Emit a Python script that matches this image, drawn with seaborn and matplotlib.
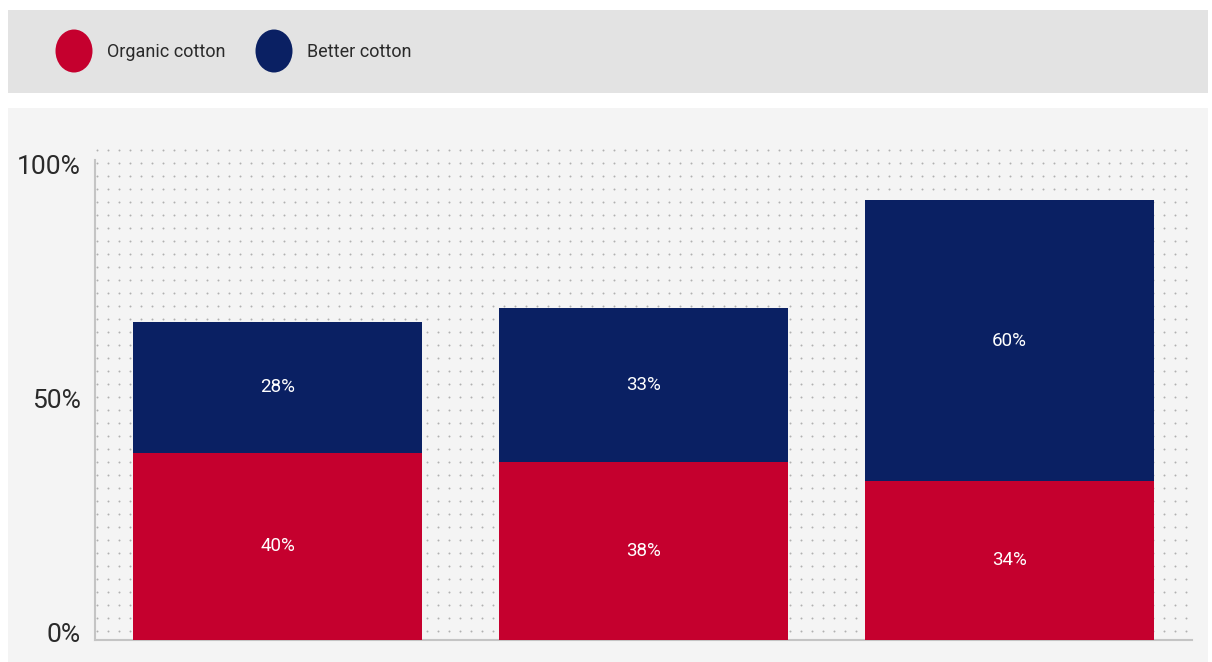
import numpy as np
import pandas as pd
import matplotlib
matplotlib.use("Agg")
import matplotlib.pyplot as plt
from matplotlib.patches import Rectangle, Ellipse
from matplotlib.transforms import offset_copy, blended_transform_factory
import seaborn as sns

# ---- data ----
categories = ["Group 1", "Group 2", "Group 3"]
organic = [40, 38, 34]
better = [28, 33, 60]
series_names = ["Organic cotton", "Better cotton"]
y_ticks = [0, 50, 100]
y_tick_labels = ["0%", "50%", "100%"]

RED = "#C5002E"
NAVY = "#0A2063"
TEXT = "#2a2a2a"

sns.set_theme(style="white")
plt.rcParams["font.family"] = ["Roboto", "DejaVu Sans"]

W, H = 1212, 662
fig = plt.figure(figsize=(W / 100, H / 100), dpi=100)
fig.patch.set_facecolor("white")

# background panels
fig.patches.append(Rectangle((8 / W, 1 - 93 / H), 1200 / W, 83 / H,
                             transform=fig.transFigure, facecolor="#e3e3e3",
                             edgecolor="none", zorder=-10))
fig.patches.append(Rectangle((8 / W, 0), 1200 / W, 1 - 108 / H,
                             transform=fig.transFigure, facecolor="#f4f4f4",
                             edgecolor="none", zorder=-10))

# legend
legend_items = [(74, 107, RED, series_names[0]), (274, 307, NAVY, series_names[1])]
for cx, tx, col, name in legend_items:
    fig.patches.append(Ellipse((cx / W, 1 - 51 / H), 37 / W, 43 / H,
                               transform=fig.transFigure, facecolor=col,
                               edgecolor="none", zorder=2))
    fig.text(tx / W, 1 - 52 / H, name, ha="left", va="center",
             fontsize=13, color=TEXT)

# dotted background lattice (decoration)
bg = fig.add_axes([0, 0, 1, 1], zorder=-5)
bg.set_xlim(0, W)
bg.set_ylim(H, 0)
bg.axis("off")
gx = np.arange(97, 1190, 11)
gy = np.arange(150, 638, 13)
XX, YY = np.meshgrid(gx, gy)
bg.scatter(XX.ravel(), YY.ravel(), s=2.0, color="#b0b0b0", linewidths=0)

ax = fig.add_axes([95 / W, 22 / H, 1097 / W, 480 / H], zorder=1)
ax.set_facecolor("none")

df = pd.DataFrame({"category": categories, "organic": organic, "better": better})
df["total"] = df["organic"] + df["better"]

sns.barplot(data=df, x="category", y="total", color=NAVY, width=0.79,
            saturation=1, ax=ax, zorder=3, edgecolor="none")
sns.barplot(data=df, x="category", y="organic", color=RED, width=0.79,
            saturation=1, ax=ax, zorder=3, edgecolor="none")

# segment labels
for i, (o, b) in enumerate(zip(organic, better)):
    ax.text(i, o / 2, f"{o}%", ha="center", va="center", color="white",
            fontsize=13.5, zorder=5)
    ax.text(i, o + b / 2, f"{b}%", ha="center", va="center", color="white",
            fontsize=13.5, zorder=5)

ax.set_xlim(-0.5, 2.5)
ax.set_ylim(0, 102.6)
ax.set_yticks(y_ticks)
ax.set_yticklabels([])
ax.set_xticks(range(len(categories)))
ax.set_xticklabels([])
ax.tick_params(axis="both", length=0)

# y tick labels, slightly raised like the reference
ytrans = offset_copy(blended_transform_factory(ax.transAxes, ax.transData),
                     fig=fig, x=-14, y=5, units="dots")
for v, lab in zip(y_ticks, y_tick_labels):
    ax.text(0, v, lab, transform=ytrans, ha="right", va="center",
            fontsize=19, color=TEXT, clip_on=False)

ax.set_xlabel("")
ax.set_ylabel("")
for s in ["top", "right"]:
    ax.spines[s].set_visible(False)
for s in ["left", "bottom"]:
    ax.spines[s].set_color("#c4c4c4")
    ax.spines[s].set_linewidth(1.5)

fig.savefig("out.png", dpi=100, facecolor="white")
